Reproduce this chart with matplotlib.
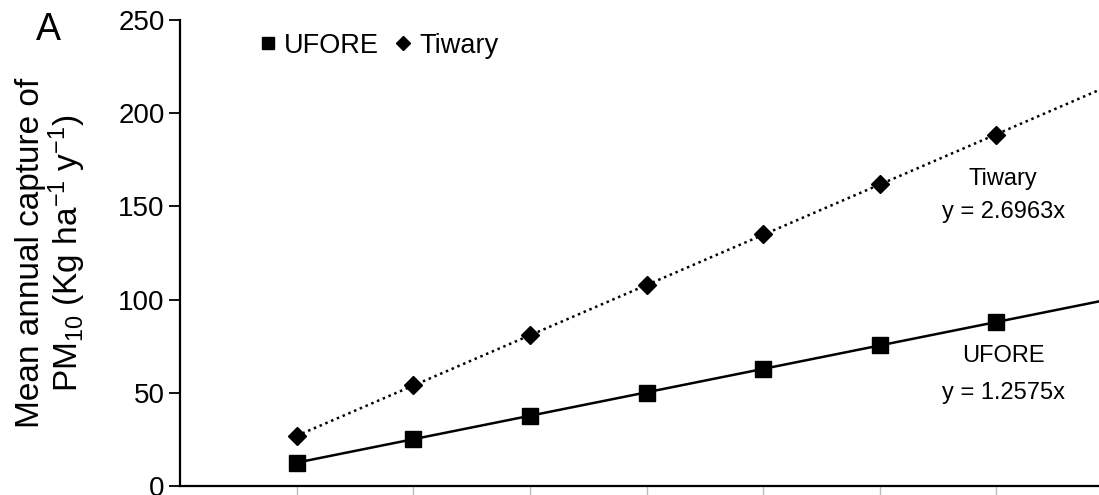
import numpy as np
import matplotlib
matplotlib.use('Agg')
from matplotlib import pyplot as plt

# data
x_vals = [10, 20, 30, 40, 50, 60, 70]
ufore = [12.5, 25.3, 37.8, 50.2, 62.8, 75.6, 88.0]
tiwary = [27.0, 54.0, 81.0, 108.0, 135.0, 162.0, 188.5]
ufore_slope = 1.2575
tiwary_slope = 2.6963
y_ticks = [0, 50, 100, 150, 200, 250]

plt.rcParams['font.family'] = ['Liberation Sans', 'DejaVu Sans']
plt.rcParams['mathtext.fontset'] = 'custom'
plt.rcParams['mathtext.rm'] = 'Liberation Sans'
plt.rcParams['mathtext.it'] = 'Liberation Sans'

fig = plt.figure(figsize=(10.99, 4.95), dpi=100)
ax = fig.add_axes([0.1638, 0.018, 0.8362, 0.9414])

# trend lines (forced through origin) from first point to edge
xt = np.array([10, 90])
ax.plot(xt, tiwary_slope * xt, color='k', lw=1.8, ls=(0, (1, 1.5)),
        zorder=2)
ax.plot(xt, ufore_slope * xt, color='k', lw=1.8, ls='-', zorder=2)

ax.plot(x_vals, ufore, 's', color='k', ms=11, ls='none', label='UFORE',
        zorder=3)
ax.plot(x_vals, tiwary, 'D', color='k', ms=9, ls='none', label='Tiwary',
        zorder=3)

ax.set_xlim(0, 78.8)
ax.set_ylim(0, 250)
ax.set_yticks(y_ticks)
ax.set_xticks(x_vals)
ax.set_xticklabels([])
ax.tick_params(axis='y', labelsize=20, length=8, width=1.3, direction='out',
               pad=3)
ax.tick_params(axis='x', length=8, width=1.0, direction='out', color='#bbbbbb')

for side in ['top', 'right']:
    ax.spines[side].set_visible(False)
for side in ['left', 'bottom']:
    ax.spines[side].set_linewidth(1.6)

ax.set_ylabel('Mean annual capture of\nPM$_{10}$ (Kg ha$^{-1}$ y$^{-1}$)',
              fontsize=24, linespacing=1.0, labelpad=22)

leg = ax.legend(loc='upper left', bbox_to_anchor=(0.06, 1.025), ncol=2,
                frameon=False, fontsize=19.5, handlelength=0.6,
                handletextpad=0.3, columnspacing=0.6, markerscale=0.75)

ax.text(70.6, 165, 'Tiwary', fontsize=17, ha='center', va='center')
ax.text(70.6, 147, 'y = 2.6963x', fontsize=17, ha='center', va='center')
ax.text(70.6, 70, 'UFORE', fontsize=17, ha='center', va='center')
ax.text(70.6, 50, 'y = 1.2575x', fontsize=17, ha='center', va='center')

fig.text(0.044, 0.94, 'A', fontsize=27, ha='center', va='center')

plt.savefig('out.png', dpi=100)
plt.close(fig)
